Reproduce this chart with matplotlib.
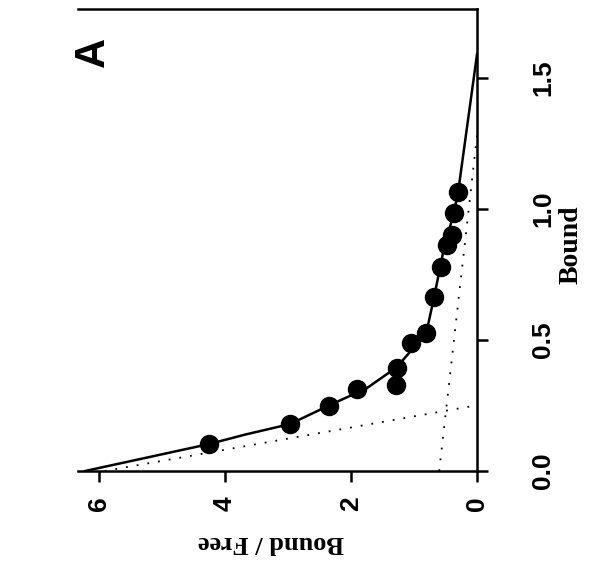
import numpy as np
import matplotlib
matplotlib.use("Agg")
import matplotlib.pyplot as plt

# measured points (Bound / Free, Bound)
bf_obs = [4.25, 2.97, 2.35, 1.91, 1.28, 1.27, 1.05, 0.81, 0.68, 0.57, 0.48, 0.40, 0.36, 0.30]
bound_obs = [0.103, 0.179, 0.250, 0.312, 0.328, 0.395, 0.487, 0.528, 0.665, 0.777, 0.862, 0.901, 0.985, 1.064]

# fitted curve
curve_bound = [0.0, 0.103, 0.139, 0.179, 0.250, 0.316, 0.395, 0.469, 0.532,
               0.665, 0.844, 0.983, 1.064, 1.59]
curve_bf = [6.22, 4.25, 3.68, 2.97, 2.35, 1.75, 1.28, 1.01, 0.80,
            0.68, 0.53, 0.37, 0.30, 0.0]

# the two binding sites (straight Scatchard lines through their intercepts)
site1_bound = [0.0, 0.251]
site1_bf = [5.91, 0.0]
site2_bound = [0.0, 1.28]
site2_bf = [0.60, 0.0]

W, H = 589, 571
fig = plt.figure(figsize=(W / 100, H / 100), dpi=100)
ax = fig.add_axes([78 / W, (H - 471) / H, (477 - 78) / W, 462 / H])

ax.plot(curve_bf, curve_bound, color="black", lw=1.8, zorder=3)
ax.plot(site1_bf, site1_bound, color="black", lw=1.3, ls=(0, (1, 5)), zorder=2)
ax.plot(site2_bf, site2_bound, color="black", lw=1.3, ls=(0, (1, 5)), zorder=2)
ax.plot(bf_obs, bound_obs, "o", color="black", ms=13, zorder=4)

ax.set_xlim((477 - 78) / 63, 0)
ax.set_ylim(0, 462 / 262)

for s in ["top", "right", "bottom"]:
    ax.spines[s].set_linewidth(1.8)
ax.spines["left"].set_visible(False)

ax.yaxis.tick_right()
ax.set_xticks([0, 2, 4, 6])
ax.set_xticklabels(["0", "2", "4", "6"], rotation=90, fontsize=19,
                   family="Liberation Sans", fontweight="bold")
ax.set_yticks([0.0, 0.5, 1.0, 1.5])
ax.set_yticklabels(["0.0", "0.5", "1.0", "1.5"], rotation=90, va="center",
                   fontsize=19, family="Liberation Sans", fontweight="bold")
ax.tick_params(axis="x", direction="out", length=8, width=1.8, pad=10)
ax.tick_params(axis="y", direction="out", length=8, width=1.8, pad=31)

fig.text(571 / W, 1 - 245 / H, "Bound", rotation=90, ha="center", va="center",
         fontsize=20, family="Liberation Serif", fontweight="bold")
fig.text(271 / W, 1 - 543 / H, "Bound / Free", rotation=180, ha="center", va="center",
         fontsize=19, family="Liberation Serif", fontweight="bold")
fig.text(93 / W, 1 - 52 / H, "A", rotation=90, ha="center", va="center",
         fontsize=30, family="Liberation Sans", fontweight="bold")

fig.savefig("out.png", dpi=100)
